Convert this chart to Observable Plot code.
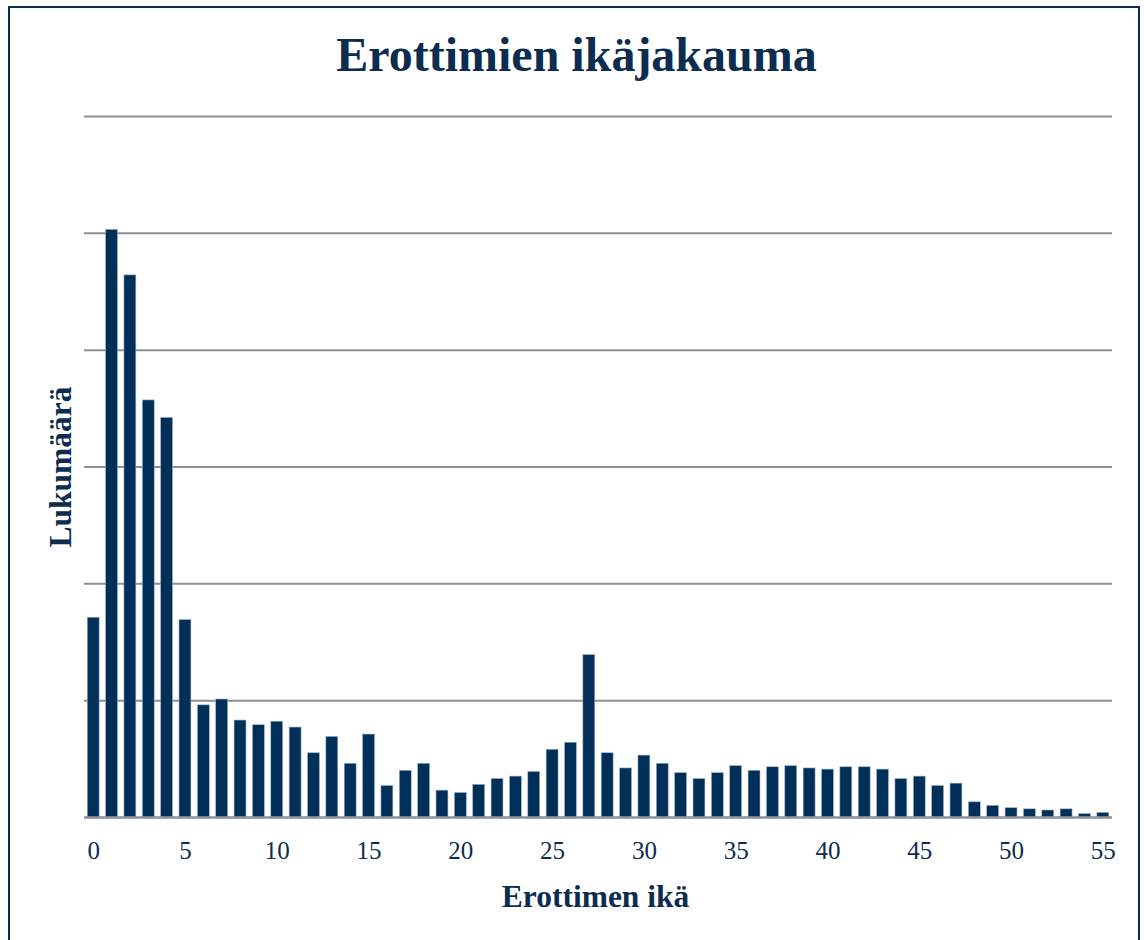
<!DOCTYPE html>
<html>
<head>
<meta charset="utf-8">
<script src="https://cdn.jsdelivr.net/npm/d3@7"></script>
<script src="https://cdn.jsdelivr.net/npm/@observablehq/plot@0.6"></script>
<style>
  body { margin: 0; background: #fff; }
  #page { position: relative; width: 1144px; height: 940px; overflow: hidden; font-family: "Liberation Serif", "Times New Roman", serif; }
  #frame { position: absolute; left: 8px; top: 6px; width: 1132px; height: 1000px; border: 2px solid #0c2c50; box-sizing: border-box; pointer-events: none; }
  #title { position: absolute; left: 0; top: 31px; width: 1153px; text-align: center; font-size: 48px; line-height: 48px; font-weight: bold; color: #0c2c50; white-space: nowrap; }
  #chart { position: absolute; left: 0; top: 100px; }
</style>
</head>
<body>
<div id="page">
  <div id="title">Erottimien ikäjakauma</div>
  <div id="chart"></div>
  <div id="frame"></div>
</div>
<script>
// Data (gridline step = 100 units)
const ages = [0,1,2,3,4,5,6,7,8,9,10,11,12,13,14,15,16,17,18,19,20,21,22,23,24,25,26,27,28,29,30,31,32,33,34,35,36,37,38,39,40,41,42,43,44,45,46,47,48,49,50,51,52,53,54,55];
const counts = [171,503,464,357,342,169,96,101,83,79,82,77,55,69,46,71,27,40,46,23,21,28,33,35,39,58,64,139,55,42,53,46,38,33,38,44,40,43,44,42,41,43,43,41,33,35,27,29,13,10,8,7,6,7,3,4];
const xTicks = [0,5,10,15,20,25,30,35,40,45,50,55];
const yTicks = [0,100,200,300,400,500,600];
const xLabel = "Erottimen ikä";
const yLabel = "Lukumäärä";

const data = ages.map((a, i) => ({age: a, count: counts[i]}));
const navy = "#0c2c50";
const grid = "#8b9099";

const chart = Plot.plot({
  width: 1144,
  height: 840,
  marginLeft: 84,
  marginRight: 32,
  marginTop: 16,
  marginBottom: 123,
  style: { fontFamily: "'Liberation Serif', 'Times New Roman', serif", fontSize: "25px", color: navy, background: "transparent" },
  x: { type: "band", domain: ages, paddingInner: 0.35, paddingOuter: 0.175, round: false, axis: null },
  y: { domain: [0, 600], axis: null },
  marks: [
    Plot.ruleY(yTicks.slice(1), { stroke: grid, strokeWidth: 2 }),
    Plot.barY(data, { x: "age", y: "count", fill: "#00305a", stroke: "#a8b6c6", strokeWidth: 0.6 }),
    Plot.ruleY([0], { stroke: grid, strokeWidth: 2.5 }),
    Plot.axisX({ ticks: xTicks, tickSize: 0, tickPadding: 24, fontSize: 25, fill: navy, label: null }),
    Plot.text([xLabel], { text: d => d, frameAnchor: "bottom", dy: 89, dx: -3, fontSize: 31.5, fontWeight: "bold", lineAnchor: "bottom", fill: navy }),
    Plot.text([yLabel], { text: d => d, frameAnchor: "left", rotate: -90, dx: -14, fontSize: 31.5, fontWeight: "bold", textAnchor: "middle", lineAnchor: "bottom", fill: navy })
  ]
});
document.getElementById("chart").appendChild(chart);
</script>
</body>
</html>
